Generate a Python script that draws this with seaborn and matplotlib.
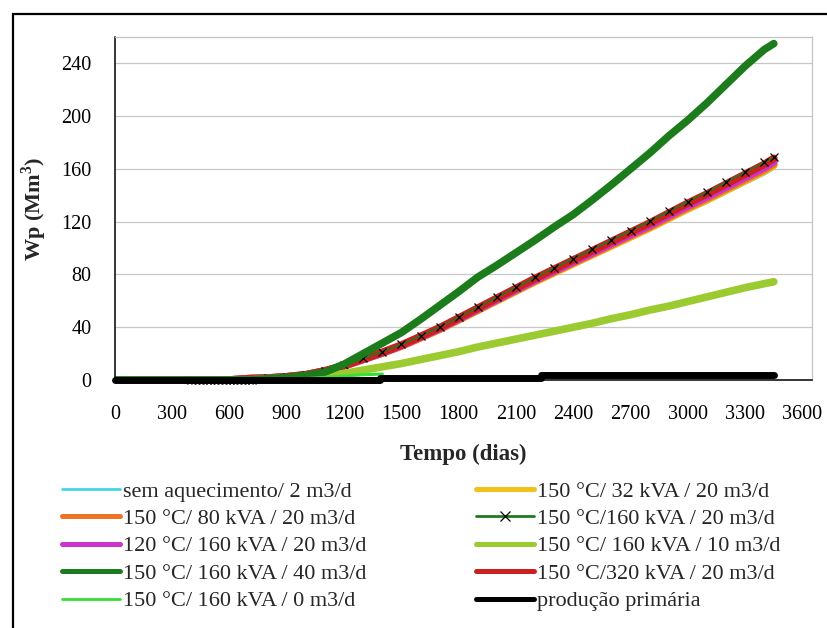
import numpy as np
import pandas as pd
import matplotlib
matplotlib.use("Agg")
import matplotlib.pyplot as plt
from matplotlib.lines import Line2D
from matplotlib.patches import Rectangle
import seaborn as sns

# ---- data: cumulative production Wp (Mm3) versus time (days) ----
days = [0, 100, 200, 300, 400, 500, 600, 700, 800, 900, 1000, 1100, 1200,
        1300, 1400, 1500, 1600, 1700, 1800, 1900, 2000, 2100, 2200, 2300,
        2400, 2500, 2600, 2700, 2800, 2900, 3000, 3100, 3200, 3300, 3400, 3450]

sem_aquecimento = [0, 0, 0, 0, 0, 0, 0, 0.9, 1.4, 2.3, 3.8, 6.6, 10.4, 15.2,
                   20.0, 25.3, 31.5, 37.8, 44.9, 52.0, 59.2, 66.4, 73.5, 80.2,
                   86.9, 93.6, 100.3, 107.0, 113.6, 120.8, 128.0, 134.7,
                   141.8, 149.0, 156.1, 160.4]
c150_32_20 = [0, 0, 0, 0, 0, 0, 0, 1.0, 1.4, 2.4, 3.9, 6.8, 10.6, 15.5, 20.3,
              25.7, 31.9, 38.3, 45.5, 52.8, 60.0, 67.3, 74.5, 81.3, 88.1,
              94.9, 101.6, 108.4, 115.2, 122.5, 129.7, 136.5, 143.8, 151.0,
              158.3, 162.6]
c150_80_20 = [0, 0, 0, 0, 0, 0, 0, 1.0, 1.4, 2.4, 3.9, 6.8, 10.7, 15.6, 20.5,
              25.8, 32.2, 38.6, 45.8, 53.1, 60.5, 67.8, 75.1, 81.9, 88.7,
              95.5, 102.4, 109.2, 116.0, 123.3, 130.7, 137.5, 144.8, 152.1,
              159.4, 163.8]
c120_160_20 = [0, 0, 0, 0, 0, 0, 0, 1.0, 1.5, 2.4, 3.9, 6.8, 10.8, 15.7, 20.6,
               26.0, 32.5, 39.0, 46.3, 53.7, 61.0, 68.5, 75.8, 82.7, 89.6,
               96.5, 103.4, 110.3, 117.2, 124.6, 132.0, 138.9, 146.3, 153.7,
               161.0, 165.5]
c150_320_20 = [0, 0, 0, 0, 0, 0, 0, 1.0, 1.5, 2.5, 4.0, 7.0, 11.0, 16.0, 21.0,
               26.5, 33.0, 39.6, 47.0, 54.5, 62.0, 69.5, 77.0, 84.0, 91.0,
               98.0, 105.0, 112.0, 119.0, 126.5, 134.0, 141.0, 148.5, 156.0,
               163.5, 168.0]
c150_160_10 = [0, 0, 0, 0, 0, 0, 0, 0, 1.0, 1.5, 2.0, 3.0, 5.0, 7.5, 10.0,
               12.5, 15.5, 18.5, 21.5, 25.0, 28.0, 31.0, 34.0, 37.0, 40.0,
               43.0, 46.5, 49.5, 53.0, 56.0, 59.5, 63.0, 66.5, 70.0, 73.0, 74.5]
c150_160_40 = [0, 0, 0, 0, 0, 0, 0, 0, 1.0, 2.0, 3.5, 6.0, 12.0, 20.0, 28.0,
               36.0, 46.0, 56.5, 67.0, 78.0, 87.0, 96.5, 106.0, 116.0, 125.5,
               136.5, 148.0, 160.0, 172.0, 185.0, 197.0, 210.0, 224.0, 238.0,
               250.5, 255.0]

# 150 °C / 160 kVA / 0 m3/d (only the early part)
days_0 = [0, 300, 600, 900, 1000, 1100, 1200, 1300, 1400]
c150_160_0 = [0, 0, 0, 0, 1.0, 2.0, 3.0, 4.0, 4.5]

# 150 °C / 160 kVA / 20 m3/d, drawn with x markers
days_x = [400, 420, 440, 460, 480, 500, 520, 540, 560, 580, 600, 620, 640,
          660, 680, 700, 720, 800, 900, 1000, 1100, 1200, 1300, 1400, 1500,
          1600, 1700, 1800, 1900, 2000, 2100, 2200, 2300, 2400, 2500, 2600,
          2700, 2800, 2900, 3000, 3100, 3200, 3300, 3400, 3450]
c150_160_20 = [0.3, 0.3, 0.3, 0.3, 0.3, 0.3, 0.3, 0.3, 0.3, 0.3, 0.3, 0.3,
               0.3, 0.3, 0.3, 0.3, 0.3, 1.6, 2.6, 4.1, 7.2, 11.2, 16.3, 21.4,
               27.0, 33.5, 40.2, 47.6, 55.2, 62.8, 70.3, 77.8, 84.9, 92.0,
               99.1, 106.1, 113.2, 120.2, 127.8, 135.3, 142.4, 150.0, 157.5,
               165.0, 169.0]

# primary production (step curve)
days_prim = [0, 1390, 2230, 3450]
prod_primaria = [0, 1.5, 3.8, 3.8]

x_ticks = list(range(0, 3601, 300))
y_ticks = list(range(0, 241, 40))

labels = {
    "sem": "sem aquecimento/ 2 m3/d",
    "32": "150 °C/ 32 kVA / 20 m3/d",
    "80": "150 °C/ 80 kVA / 20 m3/d",
    "160x": "150 °C/160 kVA / 20 m3/d",
    "120": "120 °C/ 160 kVA / 20 m3/d",
    "10": "150 °C/ 160 kVA / 10 m3/d",
    "40": "150 °C/ 160 kVA / 40 m3/d",
    "320": "150 °C/320 kVA / 20 m3/d",
    "0": "150 °C/ 160 kVA / 0 m3/d",
    "prim": "produção primária",
}
colors = {
    "sem": "#3fd8e4", "32": "#f4c01a", "80": "#ee7424", "160x": "#1f7a1f",
    "120": "#cc33cc", "10": "#9bcb30", "40": "#1c7c1c", "320": "#cc1f1f",
    "0": "#33e033", "prim": "#000000",
}

# ---- style ----
sns.set_style("white")
plt.rcParams["font.family"] = ["Liberation Serif", "DejaVu Serif"]
plt.rcParams["mathtext.fontset"] = "custom"
plt.rcParams["mathtext.rm"] = "Liberation Serif"
plt.rcParams["mathtext.bf"] = "Liberation Serif:bold"

W, H = 828, 628
fig = plt.figure(figsize=(W / 100, H / 100), dpi=100)
fig.patch.set_facecolor("white")
ax = fig.add_axes([115 / W, 1 - 380 / H, 697 / W, 343 / H])

# outer chart frame
fig.add_artist(Rectangle((13 / W, -0.1), 1.2, 1.1 - 14 / H,
                         transform=fig.transFigure, fill=False,
                         ec="black", lw=1.6, zorder=0))

thick = 5.5
sns.lineplot(x=days, y=sem_aquecimento, ax=ax, color=colors["sem"], lw=2.2)
sns.lineplot(x=days, y=c150_32_20, ax=ax, color=colors["32"], lw=thick)
sns.lineplot(x=days, y=c150_80_20, ax=ax, color=colors["80"], lw=thick)
sns.lineplot(x=days, y=c120_160_20, ax=ax, color=colors["120"], lw=thick)
sns.lineplot(x=days, y=c150_320_20, ax=ax, color=colors["320"], lw=thick)
sns.lineplot(x=days_x, y=c150_160_20, ax=ax, color=colors["160x"], lw=1.2,
             marker="x", markersize=6, markeredgecolor="black",
             markeredgewidth=0.9, clip_on=False)
sns.lineplot(x=days, y=c150_160_10, ax=ax, color=colors["10"], lw=thick)
sns.lineplot(x=days, y=c150_160_40, ax=ax, color=colors["40"], lw=thick)
sns.lineplot(x=days_0, y=c150_160_0, ax=ax, color=colors["0"], lw=2.2)
sns.lineplot(x=days_prim, y=prod_primaria, ax=ax, color=colors["prim"],
             lw=5.0, drawstyle="steps-post", clip_on=False, zorder=5)

ax.set_xlim(0, 3650)
ax.set_ylim(0, 260)
ax.set_xticks(x_ticks)
ax.set_yticks(y_ticks)
ax.yaxis.grid(True, color="#c8c8c8", lw=0.9)
ax.xaxis.grid(False)
ax.set_axisbelow(True)
for s in ["top", "right"]:
    ax.spines[s].set_color("#c4c4c4")
    ax.spines[s].set_linewidth(0.9)
for s in ["left", "bottom"]:
    ax.spines[s].set_color("black")
    ax.spines[s].set_linewidth(1.1)
ax.tick_params(axis="both", direction="out", length=6, width=1.1,
               color="black", labelsize=14.5, labelcolor="black")
ax.tick_params(axis="x", pad=12)
ax.tick_params(axis="y", pad=11)

ax.set_xlabel("Tempo (dias)", fontsize=16.5, fontweight="bold", labelpad=14)
ax.set_ylabel(r"Wp (Mm$^\mathbf{3}$)", fontsize=16, fontweight="bold",
              labelpad=9)

# ---- legends (two columns) ----
def handle(key, lw):
    if key == "160x":
        return Line2D([], [], color=colors[key], lw=2.0, marker="x",
                      markersize=7, markeredgecolor="black",
                      markeredgewidth=0.9)
    return Line2D([], [], color=colors[key], lw=lw)

left_keys = ["sem", "80", "120", "40", "0"]
right_keys = ["32", "160x", "10", "320", "prim"]
thin = {"sem", "0"}
for keys, x0 in [(left_keys, 62), (right_keys, 476)]:
    hs = [handle(k, 2.0 if k in thin else 3.6) for k in keys]
    fig.legend(hs, [labels[k] for k in keys], loc="upper left",
               bbox_to_anchor=(x0 / W, 1 - 481 / H), frameon=False,
               fontsize=16, handlelength=2.6, handletextpad=0.14,
               labelspacing=0.31, borderpad=0, borderaxespad=0)

fig.savefig("out.png", dpi=100)
